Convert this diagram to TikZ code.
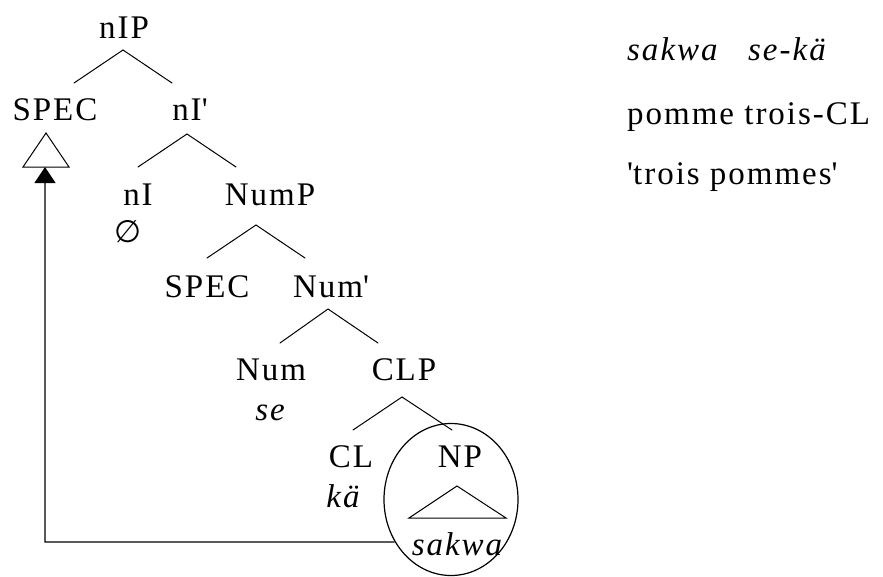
\documentclass[tikz,border=0pt]{standalone}
\usepackage{fontspec}
\setmainfont{Liberation Serif}[LetterSpace=6]
\newfontfamily\dejavusans{DejaVu Sans}
\usetikzlibrary{arrows.meta,shapes.geometric,calc}
\begin{document}
\begin{tikzpicture}[x=1pt,y=-1pt,
  lab/.style={anchor=base,inner sep=0pt,font=\fontsize{33}{40}\selectfont},
  itl/.style={anchor=base,inner sep=0pt,font=\fontsize{33}{40}\selectfont\itshape},
  gl/.style={anchor=base west,inner sep=0pt,font=\fontsize{33}{40}\selectfont},
  glit/.style={anchor=base west,inner sep=0pt,font=\fontsize{33}{40}\selectfont\itshape},
  br/.style={line width=1pt,line cap=round},
  mov/.style={line width=1.3pt,-{Triangle[length=16pt,width=21pt]}},
]
\useasboundingbox (0,0) rectangle (883,576);

% tree labels
\node[lab] (nIP)   at (124,38)  {nIP};
\node[lab] (spec1) at (55,120)  {SPEC};
\node[lab] (nIbar) at (190,120) {nI\textquotesingle};
\node[lab] (nI)    at (138,205) {nI};
\node[anchor=center,inner sep=0pt,font=\fontsize{31}{34}\selectfont\dejavusans] (empty) at (128,232) {∅};
\node[lab] (NumP)  at (270,205) {NumP};
\node[lab] (spec2) at (207,297) {SPEC};
\node[lab] (Numbar) at (331,297) {Num\textquotesingle};
\node[lab] (Num)   at (271,380) {Num};
\node[itl] (se)    at (270,420) {se};
\node[lab] (CLP)   at (404,380) {CLP};
\node[lab] (CL)    at (351,467) {CL};
\node[itl] (ka)    at (343,507) {kä};
\node[lab] (NP)    at (460,467) {NP};
\node[itl] (sakwa) at (457,555) {sakwa};

% circle around NP
\node[ellipse,draw,line width=1.2pt,minimum width=134pt,minimum height=152pt,inner sep=0pt] (npcirc) at (451,499.5) {};

% branch points
\coordinate (a1) at (123,50);  \coordinate (l1) at (74,83);   \coordinate (r1) at (172,83);
\coordinate (a2) at (187,134); \coordinate (l2) at (138,167); \coordinate (r2) at (236,167);
\coordinate (a3) at (256,225); \coordinate (l3) at (207,258); \coordinate (r3) at (305,258);
\coordinate (a4) at (328,309); \coordinate (l4) at (280,343); \coordinate (r4) at (378,343);
\coordinate (a5) at (402,397); \coordinate (l5) at (353,430); \coordinate (r5) at (452,430);

\draw[br] (l1) -- (a1) -- (r1);
\draw[br] (l2) -- (a2) -- (r2);
\draw[br] (l3) -- (a3) -- (r3);
\draw[br] (l4) -- (a4) -- (r4);
\draw[br] (l5) -- (a5) -- (r5);

% triangles
\coordinate (t1a) at (46,133); \coordinate (t1l) at (23,167); \coordinate (t1r) at (69,167);
\draw[line width=1pt,line join=miter] (t1a) -- (t1l) -- (t1r) -- cycle;
\coordinate (t2a) at (457,486); \coordinate (t2l) at (409,518); \coordinate (t2r) at (506,518);
\draw[line width=1pt,line join=miter] (t2a) -- (t2l) -- (t2r) -- cycle;

% movement arrow
\coordinate (tip) at (45,167);
\coordinate (corner) at (45,542);
\draw[mov] (npcirc.217) -- (corner) -- (tip);

% gloss
\node[glit] (g1a) at (627,60) {sakwa};
\node[glit] (g1b) at (748,60) {se-kä};
\node[gl] (g2) at (627,124) {pomme trois-CL};
\node[gl] (g3) at (627,184) {\textquotesingle trois pommes\textquotesingle};
\end{tikzpicture}
\end{document}
